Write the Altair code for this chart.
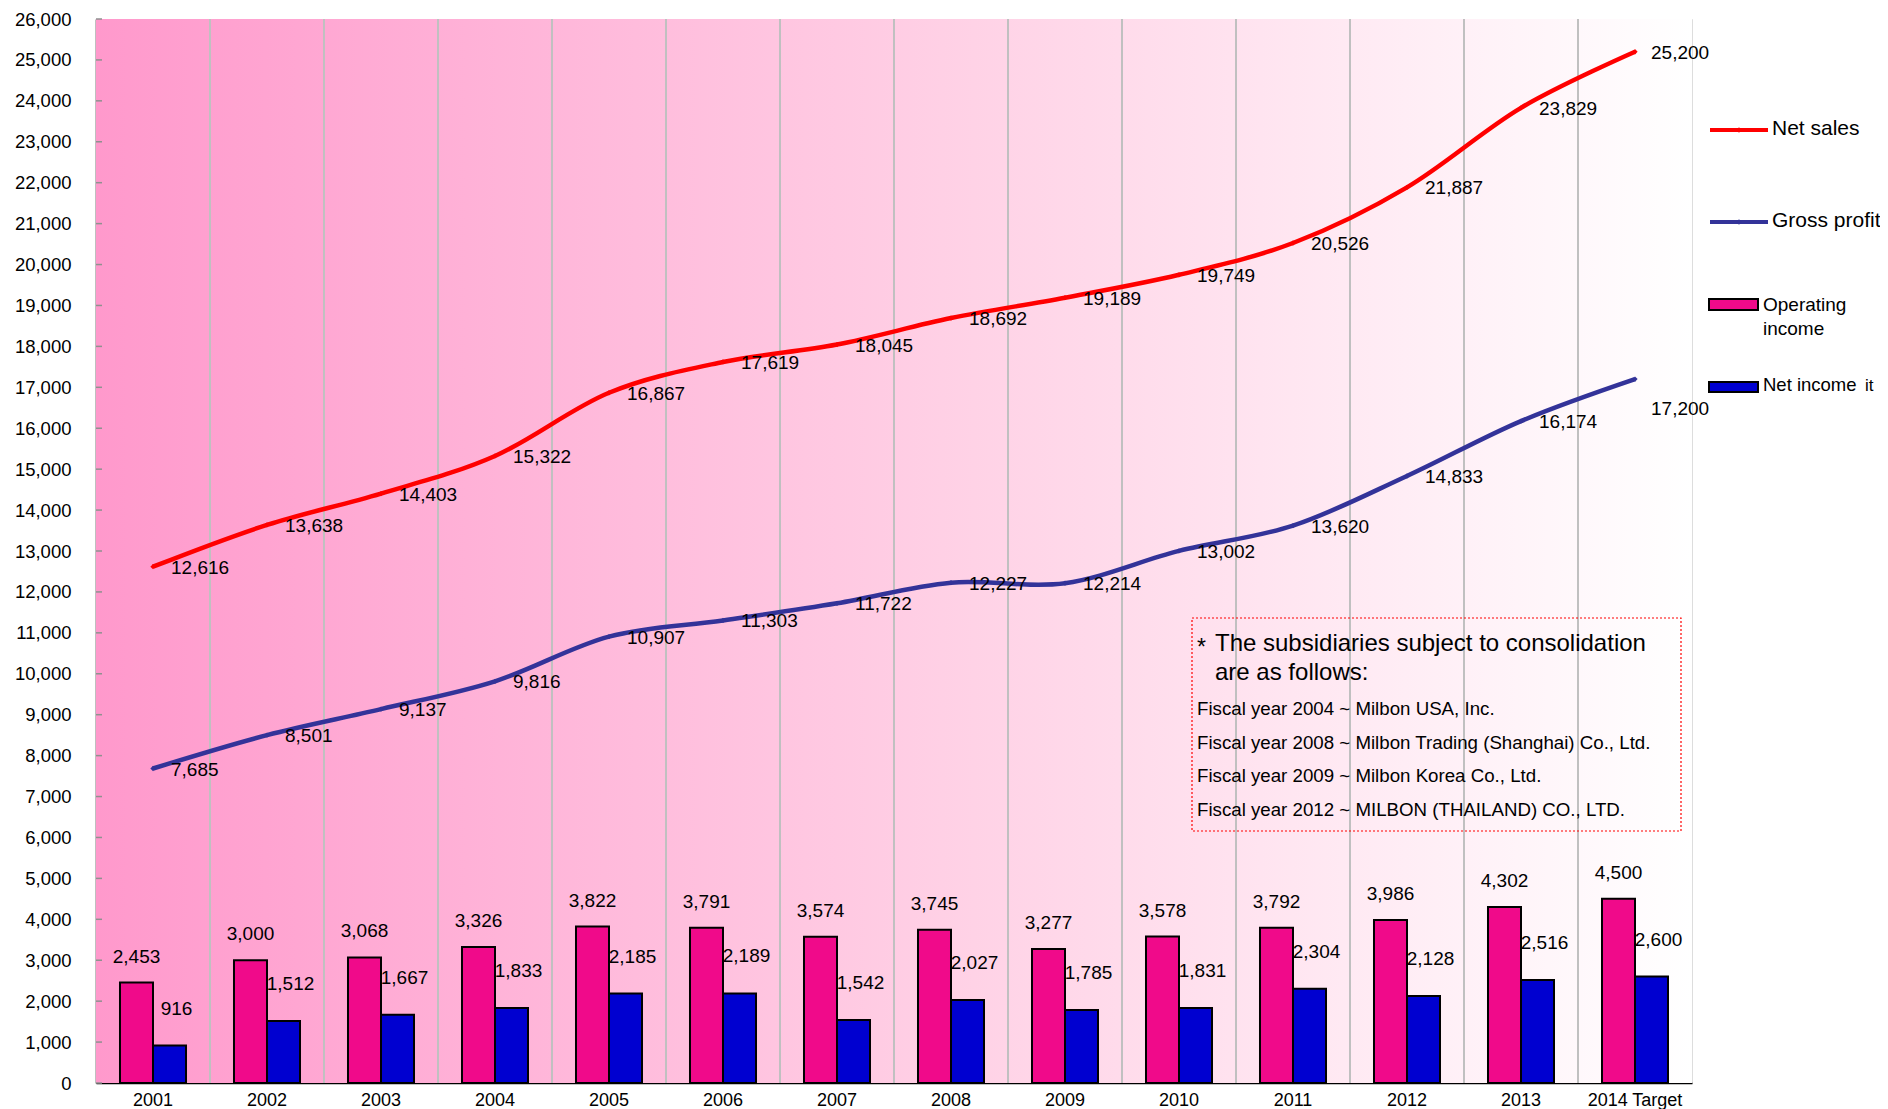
import altair as alt
import pandas as pd

# ---------------- data ----------------
years = ["2001", "2002", "2003", "2004", "2005", "2006", "2007", "2008",
         "2009", "2010", "2011", "2012", "2013", "2014 Target"]
net_sales = [12616, 13638, 14403, 15322, 16867, 17619, 18045, 18692,
             19189, 19749, 20526, 21887, 23829, 25200]
gross_profit = [7685, 8501, 9137, 9816, 10907, 11303, 11722, 12227,
                12214, 13002, 13620, 14833, 16174, 17200]
operating_income = [2453, 3000, 3068, 3326, 3822, 3791, 3574, 3745,
                    3277, 3578, 3792, 3986, 4302, 4500]
net_income = [916, 1512, 1667, 1833, 2185, 2189, 1542, 2027,
              1785, 1831, 2304, 2128, 2516, 2600]
y_ticks = list(range(0, 26001, 1000))

bar_series = ["Operating income", "Net income"]
bar_colors = ["#F00A8A", "#0000D0"]
line_colors = ["#FF0000", "#333399"]

note_star = "*"
note_title = ["The subsidiaries subject to consolidation", "are as follows:"]
note_lines = [
    "Fiscal year 2004 ~ Milbon USA, Inc.",
    "Fiscal year 2008 ~ Milbon Trading (Shanghai) Co., Ltd.",
    "Fiscal year 2009 ~ Milbon Korea Co., Ltd.",
    "Fiscal year 2012 ~ MILBON (THAILAND) CO., LTD.",
]
legend_names = ["Net sales", "Gross profit", "Operating", "income", "Net income"]
stray_text = "it"

# ---------------- frames ----------------
W, H = 1596, 1064
FONT = "Liberation Sans"

wide = pd.DataFrame({
    "year": years,
    "net_sales": net_sales,
    "gross_profit": gross_profit,
})
wide["idx"] = range(len(years))
LAST = len(years) - 1
bars = pd.DataFrame({
    "year": years * 2,
    "series": [bar_series[0]] * len(years) + [bar_series[1]] * len(years),
    "value": operating_income + net_income,
})
grid_df = pd.DataFrame({"year": years[1:]})
ytick_df = pd.DataFrame({"value": y_ticks})
one = pd.DataFrame({"a": [0]})

x_scale = alt.Scale(domain=years, paddingInner=0, paddingOuter=0)
y_scale = alt.Scale(domain=[0, 26000], nice=False, zero=True)
off_scale = alt.Scale(domain=bar_series, paddingInner=0, paddingOuter=0.727)

x_axis = alt.Axis(labelAngle=0, ticks=False, labelFontSize=18, labelColor="black",
                  labelFont=FONT, labelPadding=8, domainColor="black",
                  domainWidth=1.5, grid=False, title=None)
y_axis = alt.Axis(values=y_ticks, format=",d", ticks=False, grid=False,
                  labelFontSize=18.5, labelColor="black", labelFont=FONT,
                  labelPadding=25, domainColor="black", domainWidth=1.5, title=None)


def X(**kw):
    return alt.X("year:N", scale=x_scale, axis=x_axis, title=None, **kw)


def Y(field):
    return alt.Y(f"{field}:Q", scale=y_scale, axis=y_axis, title=None)


# background gradient
bg = alt.Chart(one).mark_rect(
    color=alt.Gradient(
        gradient="linear",
        stops=[alt.GradientStop(color="#FF99CC", offset=0),
               alt.GradientStop(color="#FFD2E6", offset=0.55),
               alt.GradientStop(color="#FFFFFF", offset=1)],
        x1=0, x2=1, y1=0, y2=0,
    )
).encode(x=alt.value(0), x2=alt.value(W), y=alt.value(0), y2=alt.value(H))

# vertical gridlines at category boundaries
grid = alt.Chart(grid_df).mark_rule(color="#C0C0C0", strokeWidth=2).encode(
    x=X(bandPosition=0),
    y=alt.value(0), y2=alt.value(H),
)

# inward y ticks
yticks = alt.Chart(ytick_df).mark_rule(color="#909090", strokeWidth=1.5).encode(
    y=Y("value"),
    x=alt.value(0), x2=alt.value(6),
)

# bars
bar_layer = alt.Chart(bars).mark_bar(stroke="black", strokeWidth=2).encode(
    x=X(),
    xOffset=alt.XOffset("series:N", scale=off_scale),
    y=Y("value"),
    color=alt.Color("series:N", scale=alt.Scale(domain=bar_series, range=bar_colors),
                    legend=None),
)

LBL = 19
op_text = alt.Chart(bars).transform_filter(
    alt.datum.series == bar_series[0]
).mark_text(fontSize=LBL, font=FONT, color="black", baseline="middle", dy=-26).encode(
    x=X(),
    xOffset=alt.XOffset("series:N", scale=off_scale),
    y=Y("value"),
    text=alt.Text("value:Q", format=",d"),
)
ni_text = alt.Chart(bars).transform_filter(
    alt.datum.series == bar_series[1]
).mark_text(fontSize=LBL, font=FONT, color="black", baseline="middle", dy=-37, dx=7).encode(
    x=X(),
    xOffset=alt.XOffset("series:N", scale=off_scale),
    y=Y("value"),
    text=alt.Text("value:Q", format=",d"),
)


def line_layers(field, color, last_dy):
    base = alt.Chart(wide).encode(x=X(), y=Y(field))
    ln = base.mark_line(color=color, strokeWidth=4.5, interpolate="cardinal")
    pt = base.mark_point(color=color, filled=True, shape="diamond", size=28, opacity=1)
    tx = base.transform_filter(alt.datum.idx < LAST).mark_text(
        fontSize=LBL, font=FONT, color="black", align="left",
        baseline="middle", dx=18, dy=1).encode(
        text=alt.Text(f"{field}:Q", format=",d"))
    tx_last = base.transform_filter(alt.datum.idx == LAST).mark_text(
        fontSize=LBL, font=FONT, color="black", align="left",
        baseline="middle", dx=16, dy=last_dy).encode(
        text=alt.Text(f"{field}:Q", format=",d"))
    return [ln, pt, tx, tx_last]


lines = (line_layers("net_sales", line_colors[0], 1)
         + line_layers("gross_profit", line_colors[1], 30))

# note box
note_box = alt.Chart(one).mark_rect(
    fill="transparent", stroke="#FF0000", strokeWidth=1.2, strokeDash=[2, 2]
).encode(x=alt.value(1096), x2=alt.value(1585), y=alt.value(599), y2=alt.value(812))

note_layers = [
    alt.Chart(one).mark_text(text=note_star, fontSize=23, font=FONT, color="black",
                             align="left", baseline="middle").encode(
        x=alt.value(1101), y=alt.value(629)),
]
for i, t in enumerate(note_title):
    note_layers.append(alt.Chart(one).mark_text(
        text=t, fontSize=24, font=FONT, color="black", align="left", baseline="middle"
    ).encode(x=alt.value(1119), y=alt.value(625 + 29 * i)))
for i, t in enumerate(note_lines):
    note_layers.append(alt.Chart(one).mark_text(
        text=t, fontSize=18.7, font=FONT, color="black", align="left", baseline="middle"
    ).encode(x=alt.value(1101), y=alt.value(690 + 33.7 * i)))

# manual legend
leg = []
for yy, col in [(111, line_colors[0]), (203, line_colors[1])]:
    leg.append(alt.Chart(one).mark_rule(color=col, strokeWidth=4).encode(
        x=alt.value(1614), x2=alt.value(1672), y=alt.value(yy)))
    leg.append(alt.Chart(one).mark_point(color=col, filled=True, shape="diamond", size=28,
                                         opacity=1).encode(
        x=alt.value(1643), y=alt.value(yy)))
for (y1, y2), col in [((280, 291), bar_colors[0]), ((363, 373), bar_colors[1])]:
    leg.append(alt.Chart(one).mark_rect(color=col, stroke="black", strokeWidth=2).encode(
        x=alt.value(1613), x2=alt.value(1662), y=alt.value(y1), y2=alt.value(y2)))
for name, xx, yy, fs in [(legend_names[0], 1676, 110, 21), (legend_names[1], 1676, 202, 21),
                         (legend_names[2], 1667, 286, 19), (legend_names[3], 1667, 310, 19),
                         (legend_names[4], 1667, 366, 18.5)]:
    leg.append(alt.Chart(one).mark_text(
        text=name, fontSize=fs, font=FONT, color="black", align="left", baseline="middle"
    ).encode(x=alt.value(xx), y=alt.value(yy)))
leg.append(alt.Chart(one).mark_text(
    text=stray_text, fontSize=17, font=FONT, color="black", align="left", baseline="middle"
).encode(x=alt.value(1769), y=alt.value(367)))

chart = alt.layer(
    bg, grid, yticks, bar_layer, op_text, ni_text, *lines, note_box, *note_layers, *leg
).properties(
    width=W, height=H,
    autosize=alt.AutoSizeParams(type="none"),
    padding={"left": 88, "top": 11, "right": 188, "bottom": 26},
).configure_view(
    stroke="#999999", strokeWidth=1.5
).configure(
    font=FONT, background="white"
)

chart.save("out.html", embed_options={"renderer": "svg", "actions": False})
